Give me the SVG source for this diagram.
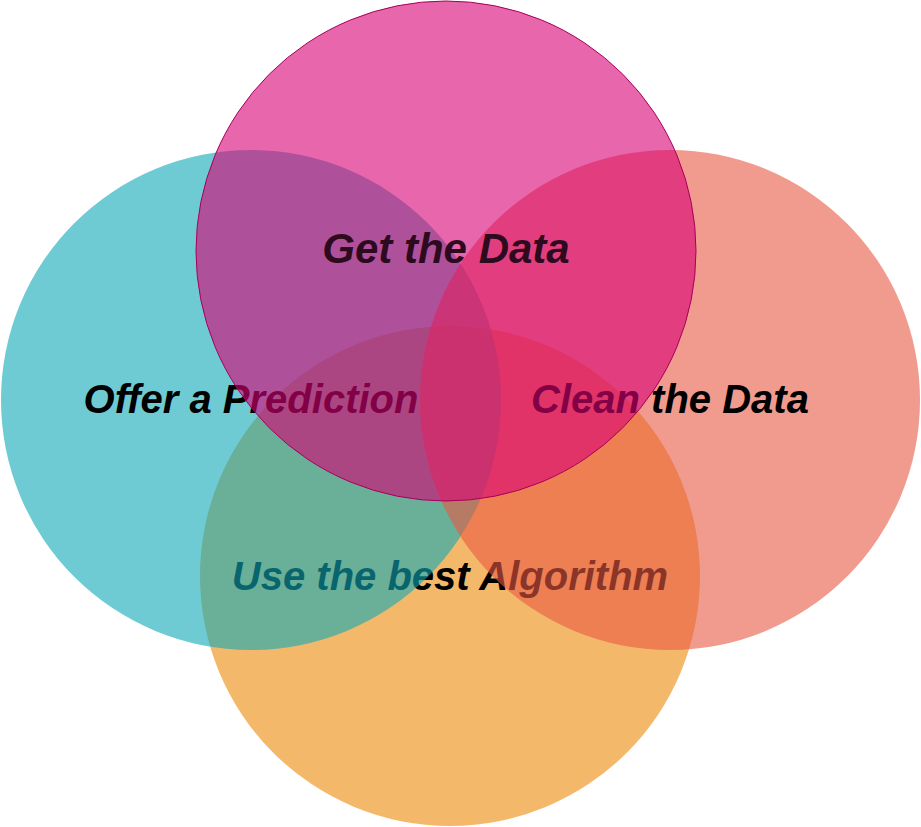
<svg xmlns="http://www.w3.org/2000/svg" width="921" height="827" viewBox="0 0 921 827">
<style>
.c{opacity:0.6}
.t{font-family:"Liberation Sans",Arial,sans-serif;font-weight:bold;font-style:italic;font-size:40px;text-anchor:middle;fill:#000}
</style>
<rect width="921" height="827" fill="#fff"/>
<g id="node-algorithm">
<circle class="c" cx="450" cy="576" r="250" fill="#ed8808"/>
<text class="t" x="450" y="590">Use the best Algorithm</text>
</g>
<g id="node-prediction">
<circle class="c" cx="251" cy="400" r="250" fill="#0da8b6"/>
<text class="t" x="251" y="413">Offer a Prediction</text>
</g>
<g id="node-clean">
<circle class="c" cx="670" cy="400" r="250" fill="#e75942"/>
<text class="t" x="670" y="413">Clean the Data</text>
</g>
<g id="node-get">
<circle cx="446" cy="251" r="250" fill="#d90075" fill-opacity="0.6" stroke="#a8005a" stroke-width="1"/>
<text class="t" x="446" y="263" style="fill:#2e0a1e;font-size:42px">Get the Data</text>
</g>
<g id="connectors"/>
</svg>
